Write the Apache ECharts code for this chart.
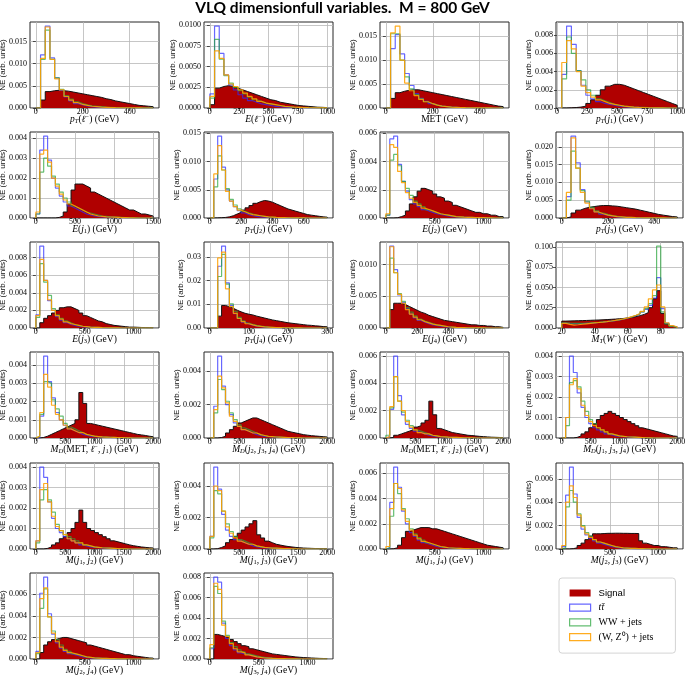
<!DOCTYPE html>
<html><head><meta charset="utf-8">
<script src="https://cdn.jsdelivr.net/npm/echarts@6/dist/echarts.min.js"></script>
<style>html,body{margin:0;padding:0;background:#fff}#c{width:685px;height:675px}</style>
</head><body><div id="c"></div>
<script>
// ---------- bin edges ----------
const E20_500 = [0,20,40,60,80,100,120,140,160,180,200,220,240,260,280,300,320,340,360,380,400,420,440,460,480,500];
const E40_1000 = [0,40,80,120,160,200,240,280,320,360,400,440,480,520,560,600,640,680,720,760,800,840,880,920,960,1000];
const E40_1000b = [40,80,120,160,200,240,280,320,360,400,440,480,520,560,600,640,680,720,760,800,840,880,920,960,1000];
const E50_1500 = [0,50,100,150,200,250,300,350,400,450,500,550,600,650,700,750,800,850,900,950,1000,1050,1100,1150,1200,1250,1300,1350,1400,1450,1500];
const E25_750 = [0,25,50,75,100,125,150,175,200,225,250,275,300,325,350,375,400,425,450,475,500,525,550,575,600,625,650,675,700,725,750];
const E40_1200 = [0,40,80,120,160,200,240,280,320,360,400,440,480,520,560,600,640,680,720,760,800,840,880,920,960,1000,1040,1080,1120,1160,1200];
const E10_300 = [0,10,20,30,40,50,60,70,80,90,100,110,120,130,140,150,160,170,180,190,200,210,220,230,240,250,260,270,280,290,300];
const E25_90 = [20,22.5,25,27.5,30,32.5,35,37.5,40,42.5,45,47.5,50,52.5,55,57.5,60,62.5,65,67.5,70,72.5,75,77.5,80,82.5,85,87.5,90];
const E67_2000 = [0,66.67,133.33,200,266.67,333.33,400,466.67,533.33,600,666.67,733.33,800,866.67,933.33,1000,1066.67,1133.33,1200,1266.67,1333.33,1400,1466.67,1533.33,1600,1666.67,1733.33,1800,1866.67,1933.33,2000];

// ---------- x tick labels ----------
const T_0_400 = [0,200,400];
const T_0_1000q = [0,250,500,750,1000];
const T_0_1500 = [0,500,1000,1500];
const T_0_600 = [0,200,400,600];
const T_0_1000 = [0,500,1000];
const T_0_300 = [0,100,200,300];
const T_MT = [20,40,60,80];
const T_0_2000 = [0,500,1000,1500,2000];

// ---------- series values (normalised entries per bin) ----------
const sig1 = [0,0.0018,0.0037,0.0039,0.0040,0.0039,0.0038,0.0036,0.0034,0.0032,0.0030,0.0028,0.0026,0.0024,0.0021,0.0019,0.0016,0.0014,0.0012,0.0010,0.0008,0.0006,0.0005,0.0004,0.0003];
const tt1 = [0,0.0120,0.0185,0.0113,0.0068,0.0040,0.0025,0.0016,0.0010,0.0007,0.0005,0.0003,0.0002,0.00015,0.0001,0.00007,0.00005,0.00003,0.00002,0.00001,0,0,0,0,0];
const ww1 = [0,0.0110,0.0176,0.0110,0.0068,0.0042,0.0028,0.0020,0.0014,0.0010,0.0007,0.0005,0.0004,0.0003,0.0002,0.00015,0.0001,0.00008,0.00006,0.00004,0.00003,0.00002,0.00001,0.00001,0];
const wz1 = [0,0.0112,0.0183,0.0110,0.0066,0.0041,0.0026,0.0018,0.0012,0.0008,0.0006,0.0004,0.0003,0.0002,0.00015,0.0001,0.00007,0.00005,0.00003,0.00002,0.00001,0.00001,0,0,0];

const sig2 = [0.0004,0.0024,0.0026,0.0027,0.0026,0.0024,0.0022,0.0020,0.0018,0.0016,0.0014,0.0012,0.0010,0.0009,0.0007,0.0006,0.0005,0.0004,0.0003,0.00025,0.0002,0.00015,0.0001,0.00008,0.00005];
const tt2 = [0.0017,0.0099,0.0066,0.0040,0.0028,0.0022,0.0016,0.0012,0.0009,0.0007,0.0005,0.0004,0.0003,0.0002,0.00015,0.0001,0.00008,0.00006,0.00004,0.00003,0.00002,0.00001,0.00001,0,0];
const ww2 = [0.0012,0.0083,0.0059,0.0039,0.0030,0.0025,0.0021,0.0017,0.0013,0.0010,0.0008,0.0006,0.0005,0.0004,0.0003,0.0002,0.00015,0.0001,0.00008,0.00006,0.00004,0.00003,0.00002,0.00001,0.00001];
const wz2 = [0.0014,0.0069,0.0060,0.0040,0.0029,0.0026,0.0022,0.0018,0.0014,0.0011,0.0008,0.0006,0.0005,0.0004,0.0003,0.0002,0.00015,0.0001,0.00008,0.00006,0.00004,0.00003,0.00002,0.00001,0.00001];

const sig3 = [0,0.0020,0.0032,0.0035,0.0037,0.0038,0.0038,0.0036,0.0034,0.0032,0.0030,0.0028,0.0026,0.0024,0.0022,0.0020,0.0018,0.0016,0.0014,0.0012,0.0010,0.0008,0.0006,0.0004,0.0003];
const tt3 = [0,0.0124,0.0153,0.0113,0.0072,0.0047,0.0030,0.0020,0.0014,0.0009,0.0006,0.0004,0.0003,0.0002,0.00015,0.0001,0.00007,0.00005,0.00003,0.00002,0.00001,0.00001,0,0,0];
const ww3 = [0,0.0155,0.0155,0.0100,0.0065,0.0040,0.0028,0.0019,0.0013,0.0009,0.0006,0.0004,0.0003,0.0002,0.00015,0.0001,0.00007,0.00005,0.00003,0.00002,0.00001,0.00001,0,0,0];
const wz3 = [0,0.0157,0.0171,0.0100,0.0052,0.0036,0.0026,0.0018,0.0013,0.0009,0.0006,0.0004,0.0003,0.0002,0.00015,0.0001,0.00007,0.00005,0.00003,0.00002,0.00001,0.00001,0,0,0];

const sig4 = [0,0.00002,0.00005,0.0001,0.0002,0.0005,0.0009,0.0014,0.0020,0.0024,0.0026,0.0026,0.0025,0.0023,0.0021,0.0019,0.0017,0.0015,0.0013,0.0011,0.0009,0.0007,0.0005,0.0003];
const tt4 = [0.0037,0.0090,0.0070,0.0041,0.0025,0.0014,0.0010,0.0007,0.0005,0.0004,0.0003,0.0002,0.00015,0.0001,0.00008,0.00006,0.00004,0.00003,0.00002,0.00001,0.00001,0,0,0];
const ww4 = [0.0032,0.0078,0.0060,0.0041,0.0031,0.0020,0.0014,0.0010,0.0008,0.0006,0.0004,0.0003,0.0002,0.00015,0.0001,0.00008,0.00006,0.00004,0.00003,0.00002,0.00001,0.00001,0,0];
const wz4 = [0.0050,0.0074,0.0065,0.0040,0.0024,0.0017,0.0012,0.0009,0.0007,0.0005,0.0004,0.0003,0.0002,0.00015,0.0001,0.00007,0.00005,0.00003,0.00002,0.00001,0.00001,0,0,0];

const sig5 = [0,0,0,0,0,0.00003,0.0001,0.0003,0.0007,0.0014,0.0017,0.0017,0.0016,0.0015,0.0013,0.0012,0.0011,0.0010,0.0009,0.0008,0.0007,0.0006,0.0005,0.0004,0.0004,0.0003,0.0002,0.0002,0.00015,0.0001];
const tt5 = [0.0002,0.0034,0.0041,0.0029,0.0020,0.0015,0.0011,0.0008,0.0006,0.0005,0.0004,0.0003,0.0002,0.00015,0.0001,0.00008,0.00006,0.00005,0.00004,0.00003,0.00002,0.00002,0.00001,0.00001,0,0,0,0,0,0];
const ww5 = [0.0002,0.0023,0.0030,0.0026,0.0021,0.0017,0.0013,0.0010,0.0008,0.0006,0.0005,0.0004,0.0003,0.00025,0.0002,0.00015,0.0001,0.00008,0.00006,0.00005,0.00004,0.00003,0.00002,0.00002,0.00001,0.00001,0,0,0,0];
const wz5 = [0.0003,0.0032,0.0034,0.0028,0.0020,0.0016,0.0012,0.0009,0.0007,0.0006,0.0005,0.0004,0.0003,0.0002,0.00015,0.0001,0.00008,0.00006,0.00005,0.00004,0.00003,0.00002,0.00002,0.00001,0.00001,0,0,0,0,0];

const sig6 = [0,0.00002,0.00005,0.0001,0.0002,0.0004,0.0007,0.0010,0.0014,0.0018,0.0022,0.0026,0.0029,0.0031,0.0030,0.0028,0.0025,0.0022,0.0019,0.0016,0.0014,0.0012,0.0010,0.0008,0.0006,0.0005,0.0004,0.0003,0.0002,0.00015];
const tt6 = [0,0.0069,0.0145,0.0090,0.0050,0.0030,0.0020,0.0013,0.0009,0.0006,0.0004,0.0003,0.0002,0.00015,0.0001,0.00007,0.00005,0.00003,0.00002,0.00001,0.00001,0,0,0,0,0,0,0,0,0];
const ww6 = [0,0.0055,0.0110,0.0085,0.0052,0.0033,0.0023,0.0016,0.0012,0.0009,0.0007,0.0005,0.0004,0.0003,0.0002,0.00015,0.0001,0.00008,0.00006,0.00004,0.00003,0.00002,0.00001,0.00001,0,0,0,0,0,0];
const wz6 = [0,0.0078,0.0128,0.0085,0.0047,0.0030,0.0020,0.0014,0.0011,0.0008,0.0006,0.0005,0.0004,0.0003,0.0002,0.00015,0.0001,0.00008,0.00006,0.00004,0.00003,0.00002,0.00001,0.00001,0,0,0,0,0,0];

const sig7 = [0,0,0.00002,0.0001,0.0002,0.0005,0.0010,0.0015,0.0019,0.0021,0.0020,0.0019,0.0017,0.0015,0.0014,0.0012,0.0011,0.0009,0.0008,0.0007,0.0006,0.0005,0.0004,0.0004,0.0003,0.0003,0.0002,0.0002,0.0001,0.0001];
const tt7 = [0.0002,0.0056,0.0058,0.0038,0.0026,0.0019,0.0013,0.0010,0.0008,0.0006,0.0005,0.0004,0.0003,0.00025,0.0002,0.00015,0.0001,0.00008,0.00006,0.00005,0.00004,0.00003,0.00002,0.00002,0.00001,0.00001,0,0,0,0];
const ww7 = [0.0002,0.0041,0.0045,0.0037,0.0026,0.0021,0.0016,0.0012,0.0010,0.0008,0.0006,0.0005,0.0004,0.0003,0.00025,0.0002,0.00015,0.0001,0.00008,0.00006,0.00005,0.00004,0.00003,0.00002,0.00002,0.00001,0.00001,0,0,0];
const wz7 = [0.0003,0.0052,0.0050,0.0033,0.0025,0.0018,0.0014,0.0011,0.0009,0.0007,0.0006,0.0005,0.0004,0.0003,0.00025,0.0002,0.00015,0.0001,0.00008,0.00006,0.00005,0.00004,0.00003,0.00002,0.00002,0.00001,0.00001,0,0,0];

const sig8 = [0,0.0003,0.0014,0.0022,0.0027,0.0030,0.0032,0.0034,0.0035,0.0035,0.0034,0.0033,0.0031,0.0029,0.0027,0.0025,0.0022,0.0019,0.0016,0.0013,0.0010,0.0008,0.0006,0.0004,0.0003];
const tt8 = [0,0.0060,0.0230,0.0155,0.0080,0.0045,0.0027,0.0017,0.0011,0.0007,0.0005,0.0003,0.0002,0.00015,0.0001,0.00007,0.00005,0.00003,0.00002,0.00001,0.00001,0,0,0,0];
const ww8 = [0,0.0050,0.0188,0.0140,0.0077,0.0047,0.0030,0.0020,0.0014,0.0010,0.0007,0.0005,0.0003,0.0002,0.00015,0.0001,0.00007,0.00005,0.00003,0.00002,0.00001,0.00001,0,0,0];
const wz8 = [0,0.0072,0.0225,0.0140,0.0072,0.0042,0.0026,0.0017,0.0012,0.0008,0.0006,0.0004,0.0003,0.0002,0.00015,0.0001,0.00007,0.00005,0.00003,0.00002,0.00001,0.00001,0,0,0];

const sig9 = [0,0.0006,0.0011,0.0014,0.0017,0.0020,0.0023,0.0024,0.0024,0.0022,0.0020,0.0017,0.0014,0.0012,0.0010,0.0008,0.0007,0.0005,0.0004,0.0003,0.00025,0.0002,0.00015,0.0001,0.0001,0.00008,0.00006,0.00005,0.00004,0.00003];
const tt9 = [0.0015,0.0093,0.0054,0.0031,0.0020,0.0013,0.0009,0.0006,0.0004,0.0003,0.0002,0.00015,0.0001,0.00008,0.00006,0.00004,0.00003,0.00002,0.00001,0.00001,0,0,0,0,0,0,0,0,0,0];
const ww9 = [0.0012,0.0073,0.0052,0.0037,0.0022,0.0015,0.0011,0.0008,0.0006,0.0004,0.0003,0.0002,0.00015,0.0001,0.00008,0.00006,0.00004,0.00003,0.00002,0.00001,0.00001,0,0,0,0,0,0,0,0,0];
const wz9 = [0.0014,0.0078,0.0054,0.0032,0.0020,0.0014,0.0010,0.0007,0.0005,0.0004,0.0003,0.0002,0.00015,0.0001,0.00008,0.00006,0.00004,0.00003,0.00002,0.00001,0.00001,0,0,0,0,0,0,0,0,0];

const sig10 = [0,0,0.0050,0.0095,0.0090,0.0083,0.0075,0.0068,0.0062,0.0058,0.0055,0.0050,0.0046,0.0042,0.0038,0.0034,0.0031,0.0028,0.0025,0.0022,0.0020,0.0018,0.0016,0.0014,0.0012,0.0011,0.0009,0.0008,0.0006,0.0005];
const tt10 = [0,0,0.0260,0.0345,0.0190,0.0095,0.0060,0.0040,0.0025,0.0017,0.0012,0.0008,0.0006,0.0004,0.0003,0.0002,0.00015,0.0001,0.00007,0.00005,0.00003,0.00002,0.00001,0.00001,0,0,0,0,0,0];
const ww10 = [0,0,0.0217,0.0310,0.0185,0.0102,0.0070,0.0045,0.0030,0.0021,0.0015,0.0011,0.0008,0.0006,0.0004,0.0003,0.0002,0.00015,0.0001,0.00007,0.00005,0.00003,0.00002,0.00001,0.00001,0,0,0,0,0];
const wz10 = [0,0,0.0295,0.0320,0.0165,0.0090,0.0062,0.0040,0.0027,0.0018,0.0013,0.0009,0.0007,0.0005,0.0004,0.0003,0.0002,0.00015,0.0001,0.00007,0.00005,0.00003,0.00002,0.00001,0.00001,0,0,0,0,0];

const sig11 = [0,0.0029,0.0039,0.0039,0.0037,0.0034,0.0031,0.0028,0.0025,0.0023,0.0020,0.0018,0.0016,0.0014,0.0012,0.0011,0.0010,0.0009,0.0008,0.0007,0.0006,0.0005,0.0005,0.0004,0.0004,0.0003,0.0003,0.0002,0.0002,0.0001];
const tt11 = [0,0.0129,0.0092,0.0052,0.0040,0.0030,0.0022,0.0016,0.0012,0.0009,0.0007,0.0005,0.0004,0.0003,0.0002,0.00015,0.0001,0.00008,0.00006,0.00004,0.00003,0.00002,0.00001,0.00001,0,0,0,0,0,0];
const ww11 = [0,0.0110,0.0087,0.0054,0.0042,0.0032,0.0025,0.0019,0.0014,0.0011,0.0009,0.0007,0.0005,0.0004,0.0003,0.0002,0.00015,0.0001,0.00008,0.00006,0.00004,0.00003,0.00002,0.00001,0.00001,0,0,0,0,0];
const wz11 = [0,0.0128,0.0087,0.0053,0.0039,0.0029,0.0022,0.0017,0.0013,0.0010,0.0008,0.0006,0.0005,0.0004,0.0003,0.0002,0.00015,0.0001,0.00008,0.00006,0.00004,0.00003,0.00002,0.00001,0.00001,0,0,0,0,0];

const sig12 = [0.0085,0.0087,0.0088,0.0090,0.0091,0.0093,0.0095,0.0097,0.0099,0.0101,0.0104,0.0107,0.0110,0.0114,0.0118,0.0124,0.0130,0.0140,0.0152,0.0168,0.0190,0.0250,0.0360,0.0460,0.0180,0.0050,0.0020,0.0008];
const tt12 = [0.0060,0.0055,0.0052,0.0052,0.0054,0.0057,0.0060,0.0064,0.0068,0.0073,0.0078,0.0085,0.0092,0.0100,0.0110,0.0122,0.0136,0.0152,0.0172,0.0197,0.0230,0.0280,0.0370,0.0620,0.0240,0.0060,0.0025,0.0010];
const ww12 = [0.0065,0.0060,0.0057,0.0056,0.0057,0.0059,0.0062,0.0066,0.0070,0.0075,0.0080,0.0086,0.0093,0.0101,0.0111,0.0123,0.0137,0.0154,0.0175,0.0200,0.0240,0.0300,0.0400,0.1010,0.0200,0.0050,0.0020,0.0008];
const wz12 = [0.0058,0.0045,0.0036,0.0040,0.0046,0.0052,0.0058,0.0063,0.0068,0.0073,0.0079,0.0086,0.0094,0.0103,0.0113,0.0125,0.0140,0.0157,0.0178,0.0205,0.0260,0.0360,0.0470,0.0530,0.0260,0.0065,0.0030,0.0012];

const sig13 = [0,0.00003,0.0001,0.0002,0.0003,0.0004,0.0005,0.0006,0.0007,0.0008,0.0010,0.0025,0.0019,0.0008,0.00075,0.0007,0.00065,0.0006,0.00055,0.0005,0.00045,0.0004,0.00035,0.0003,0.00025,0.0002,0.00017,0.00014,0.0001,0.00007];
const tt13 = [0,0.0012,0.0045,0.0031,0.0022,0.0014,0.0010,0.0007,0.0005,0.0004,0.0003,0.0002,0.00015,0.0001,0.00008,0.00006,0.00005,0.00004,0.00003,0.00002,0.00002,0.00001,0.00001,0,0,0,0,0,0,0];
const ww13 = [0.0001,0.0013,0.0031,0.0030,0.0021,0.0016,0.0012,0.0008,0.0006,0.0005,0.0004,0.0003,0.0002,0.00015,0.0001,0.00008,0.00006,0.00005,0.00004,0.00003,0.00002,0.00002,0.00001,0.00001,0,0,0,0,0,0];
const wz13 = [0.0001,0.0014,0.0035,0.0028,0.0018,0.0013,0.0010,0.0007,0.0005,0.0004,0.0003,0.0003,0.0002,0.00015,0.0001,0.00008,0.00006,0.00005,0.00004,0.00003,0.00002,0.00002,0.00001,0.00001,0,0,0,0,0,0];

const sig14 = [0,0,0.00003,0.0001,0.0003,0.0005,0.0007,0.0009,0.0010,0.0011,0.0012,0.0012,0.0011,0.0010,0.0009,0.0008,0.0007,0.0006,0.0005,0.0004,0.00035,0.0003,0.00025,0.0002,0.00017,0.00014,0.00012,0.0001,0.00008,0.00006];
const tt14 = [0,0.0019,0.0049,0.0031,0.0020,0.0014,0.0009,0.0007,0.0005,0.0004,0.0003,0.0002,0.00015,0.0001,0.00008,0.00006,0.00005,0.00004,0.00003,0.00002,0.00001,0.00001,0,0,0,0,0,0,0,0];
const ww14 = [0,0.0015,0.0035,0.0029,0.0022,0.0015,0.0011,0.0008,0.0006,0.0005,0.0004,0.0003,0.0002,0.00015,0.0001,0.00008,0.00006,0.00005,0.00004,0.00003,0.00002,0.00001,0.00001,0,0,0,0,0,0,0];
const wz14 = [0,0.0017,0.0037,0.0030,0.0021,0.0013,0.0010,0.0007,0.0005,0.0004,0.0003,0.0003,0.0002,0.00015,0.0001,0.00008,0.00006,0.00005,0.00004,0.00003,0.00002,0.00001,0.00001,0,0,0,0,0,0,0];

const sig15 = [0,0.00005,0.0002,0.0003,0.0004,0.0005,0.0006,0.0008,0.0009,0.0011,0.0013,0.0027,0.0017,0.0007,0.0006,0.0005,0.0004,0.00035,0.0003,0.00025,0.0002,0.00018,0.00015,0.00012,0.0001,0.00008,0.00006,0.00005,0.00004,0.00003];
const tt15 = [0.0001,0.0021,0.0060,0.0031,0.0017,0.0010,0.0007,0.0005,0.0004,0.0003,0.0002,0.00015,0.0001,0.00008,0.00006,0.00005,0.00004,0.00003,0.00002,0.00001,0.00001,0,0,0,0,0,0,0,0,0];
const ww15 = [0.0002,0.0022,0.0045,0.0027,0.0019,0.0013,0.0009,0.0006,0.0005,0.0004,0.0003,0.0002,0.00015,0.0001,0.00008,0.00006,0.00005,0.00004,0.00003,0.00002,0.00001,0.00001,0,0,0,0,0,0,0,0];
const wz15 = [0.0001,0.0023,0.0045,0.0027,0.0020,0.0012,0.0008,0.0006,0.0004,0.0003,0.0003,0.0002,0.00015,0.0001,0.00008,0.00006,0.00005,0.00004,0.00003,0.00002,0.00001,0.00001,0,0,0,0,0,0,0,0];

const sig16 = [0,0,0,0.00003,0.0001,0.0002,0.0003,0.0005,0.0007,0.0009,0.0011,0.0012,0.0013,0.0012,0.0011,0.0010,0.0009,0.0008,0.0007,0.0006,0.0005,0.00045,0.0004,0.00035,0.0003,0.00025,0.0002,0.00015,0.0001,0.00008];
const tt16 = [0,0.0010,0.0040,0.0032,0.0022,0.0015,0.0010,0.0007,0.0005,0.0004,0.0003,0.0002,0.00015,0.0001,0.00008,0.00006,0.00005,0.00004,0.00003,0.00002,0.00001,0.00001,0,0,0,0,0,0,0,0];
const ww16 = [0,0.0006,0.0027,0.0028,0.0025,0.0018,0.0013,0.0009,0.0007,0.0005,0.0004,0.0003,0.0002,0.00015,0.0001,0.00008,0.00006,0.00005,0.00004,0.00003,0.00002,0.00001,0.00001,0,0,0,0,0,0,0];
const wz16 = [0,0.0010,0.0026,0.0029,0.0024,0.0016,0.0011,0.0008,0.0006,0.0005,0.0004,0.0003,0.0002,0.00015,0.0001,0.00008,0.00006,0.00005,0.00004,0.00003,0.00002,0.00001,0.00001,0,0,0,0,0,0,0];

const sig17 = [0,0,0.00003,0.0001,0.0002,0.0003,0.0005,0.0006,0.0008,0.0010,0.0013,0.0019,0.0013,0.0010,0.0009,0.0008,0.0007,0.0006,0.0005,0.0004,0.00035,0.0003,0.00025,0.0002,0.00016,0.00013,0.0001,0.00008,0.00006,0.00005];
const tt17 = [0.0004,0.0040,0.0035,0.0023,0.0015,0.0010,0.0008,0.0006,0.0005,0.0004,0.0003,0.0002,0.00015,0.0001,0.00008,0.00006,0.00005,0.00004,0.00003,0.00002,0.00001,0.00001,0,0,0,0,0,0,0,0];
const ww17 = [0.0003,0.0024,0.0029,0.0024,0.0018,0.0012,0.0009,0.0007,0.0006,0.0005,0.0004,0.0003,0.0002,0.00015,0.0001,0.00008,0.00006,0.00005,0.00004,0.00003,0.00002,0.00001,0.00001,0,0,0,0,0,0,0];
const wz17 = [0.0004,0.0029,0.0032,0.0023,0.0016,0.0011,0.0009,0.0007,0.0005,0.0004,0.0003,0.0003,0.0002,0.00015,0.0001,0.00008,0.00006,0.00005,0.00004,0.00003,0.00002,0.00001,0.00001,0,0,0,0,0,0,0];

const sig18 = [0,0.00002,0.0001,0.0002,0.0004,0.0006,0.0008,0.0010,0.0012,0.0014,0.0016,0.0018,0.0009,0.0007,0.0005,0.0004,0.0003,0.00025,0.0002,0.00016,0.00013,0.0001,0.00008,0.00006,0.00005,0.00004,0.00003,0.00003,0.00002,0.00002];
const tt18 = [0.0008,0.0052,0.0038,0.0022,0.0012,0.0008,0.0006,0.0005,0.0004,0.0003,0.0002,0.00015,0.0001,0.00008,0.00006,0.00005,0.00004,0.00003,0.00002,0.00001,0.00001,0,0,0,0,0,0,0,0,0];
const ww18 = [0.0007,0.0037,0.0035,0.0024,0.0016,0.0011,0.0008,0.0006,0.0005,0.0004,0.0003,0.0002,0.00015,0.0001,0.00008,0.00006,0.00005,0.00004,0.00003,0.00002,0.00001,0.00001,0,0,0,0,0,0,0,0];
const wz18 = [0.0008,0.0040,0.0037,0.0024,0.0014,0.0010,0.0007,0.0005,0.0004,0.0003,0.0003,0.0002,0.00015,0.0001,0.00008,0.00006,0.00005,0.00004,0.00003,0.00002,0.00001,0.00001,0,0,0,0,0,0,0,0];

const sig19 = [0,0.00002,0.0001,0.0003,0.0009,0.0014,0.0015,0.0016,0.0017,0.0017,0.0017,0.0016,0.0016,0.0015,0.0014,0.0013,0.0012,0.0011,0.0010,0.0009,0.0008,0.0007,0.0006,0.0005,0.0004,0.0003,0.00025,0.0002,0.00015,0.0001];
const tt19 = [0.0001,0.0037,0.0065,0.0049,0.0030,0.0020,0.0013,0.0010,0.0007,0.0005,0.0004,0.0003,0.0002,0.00015,0.0001,0.00008,0.00006,0.00005,0.00004,0.00003,0.00002,0.00001,0.00001,0,0,0,0,0,0,0];
const ww19 = [0.0001,0.0026,0.0052,0.0044,0.0032,0.0024,0.0016,0.0012,0.0009,0.0007,0.0005,0.0004,0.0003,0.0002,0.00015,0.0001,0.00008,0.00006,0.00005,0.00004,0.00003,0.00002,0.00001,0.00001,0,0,0,0,0,0];
const wz19 = [0.0002,0.0032,0.0052,0.0048,0.0031,0.0022,0.0015,0.0011,0.0008,0.0006,0.0005,0.0004,0.0003,0.0002,0.00015,0.0001,0.00008,0.00006,0.00005,0.00004,0.00003,0.00002,0.00001,0.00001,0,0,0,0,0,0];

const sig20 = [0,0,0.00003,0.0001,0.0003,0.0005,0.0008,0.0011,0.0013,0.00130,0.00132,0.00134,0.00134,0.00135,0.00135,0.00134,0.00134,0.00133,0.00133,0.00132,0.0007,0.0005,0.0004,0.0003,0.0003,0.0002,0.0002,0.00015,0.0001,0.0001];
const tt20 = [0.0002,0.0046,0.0070,0.0047,0.0027,0.0017,0.0012,0.0009,0.0007,0.0005,0.0004,0.0003,0.0002,0.00015,0.0001,0.00008,0.00006,0.00005,0.00004,0.00003,0.00002,0.00001,0.00001,0,0,0,0,0,0,0];
const ww20 = [0.0001,0.0036,0.0050,0.0040,0.0030,0.0020,0.0014,0.0011,0.0008,0.0006,0.0005,0.0004,0.0003,0.0002,0.00015,0.0001,0.00008,0.00006,0.00005,0.00004,0.00003,0.00002,0.00001,0.00001,0,0,0,0,0,0];
const wz20 = [0.0003,0.0040,0.0054,0.0044,0.0029,0.0019,0.0013,0.0010,0.0008,0.0006,0.0005,0.0004,0.0003,0.0002,0.00015,0.0001,0.00008,0.00006,0.00005,0.00004,0.00003,0.00002,0.00001,0.00001,0,0,0,0,0,0];

const sig21 = [0,0.0006,0.0013,0.0016,0.0018,0.0019,0.0020,0.0020,0.0019,0.0018,0.0017,0.0016,0.0015,0.0013,0.0012,0.0011,0.0010,0.0009,0.0008,0.0007,0.0006,0.0005,0.0004,0.0004,0.0003,0.00025,0.0002,0.00015,0.0001,0.00008];
const tt21 = [0.0007,0.0061,0.0076,0.0042,0.0023,0.0015,0.0010,0.0007,0.0005,0.0004,0.0003,0.0002,0.00015,0.0001,0.00008,0.00006,0.00005,0.00004,0.00003,0.00002,0.00001,0.00001,0,0,0,0,0,0,0,0];
const ww21 = [0.0005,0.0047,0.0065,0.0039,0.0026,0.0018,0.0013,0.0009,0.0007,0.0005,0.0004,0.0003,0.0002,0.00015,0.0001,0.00008,0.00006,0.00005,0.00004,0.00003,0.00002,0.00001,0.00001,0,0,0,0,0,0,0];
const wz21 = [0.0006,0.0056,0.0066,0.0039,0.0024,0.0016,0.0011,0.0008,0.0006,0.0005,0.0004,0.0003,0.0002,0.00015,0.0001,0.00008,0.00006,0.00005,0.00004,0.00003,0.00002,0.00001,0.00001,0,0,0,0,0,0,0];

const sig22 = [0,0.0024,0.0023,0.0022,0.0021,0.0019,0.0017,0.0015,0.0013,0.0012,0.0010,0.0009,0.0008,0.0007,0.0006,0.0005,0.00045,0.0004,0.00035,0.0003,0.00025,0.0002,0.00017,0.00014,0.00012,0.0001,0.00008,0.00006,0.00005,0.00004];
const tt22 = [0.0010,0.0080,0.0075,0.0035,0.0020,0.0013,0.0009,0.0006,0.0005,0.0004,0.0003,0.0002,0.00015,0.0001,0.00008,0.00006,0.00005,0.00004,0.00003,0.00002,0.00001,0.00001,0,0,0,0,0,0,0,0];
const ww22 = [0.0011,0.0071,0.0064,0.0037,0.0023,0.0016,0.0012,0.0009,0.0007,0.0005,0.0004,0.0003,0.0002,0.00015,0.0001,0.00008,0.00006,0.00005,0.00004,0.00003,0.00002,0.00001,0.00001,0,0,0,0,0,0,0];
const wz22 = [0.0014,0.0074,0.0068,0.0033,0.0022,0.0015,0.0010,0.0007,0.0006,0.0004,0.0003,0.0002,0.00015,0.0001,0.00008,0.00006,0.00005,0.00004,0.00003,0.00002,0.00001,0.00001,0,0,0,0,0,0,0,0];

// ---------- axis titles (rich text) ----------
const xNames = [
  '{i|p}{s|T}{r|(}{i|ℓ}{p|−}{r|) (GeV)}',
  '{i|E}{r|(}{i|ℓ}{p|−}{r|) (GeV)}',
  '{r|MET (GeV)}',
  '{i|p}{s|T}{r|(}{i|j}{n|1}{r|) (GeV)}',
  '{i|E}{r|(}{i|j}{n|1}{r|) (GeV)}',
  '{i|p}{s|T}{r|(}{i|j}{n|2}{r|) (GeV)}',
  '{i|E}{r|(}{i|j}{n|2}{r|) (GeV)}',
  '{i|p}{s|T}{r|(}{i|j}{n|3}{r|) (GeV)}',
  '{i|E}{r|(}{i|j}{n|3}{r|) (GeV)}',
  '{i|p}{s|T}{r|(}{i|j}{n|4}{r|) (GeV)}',
  '{i|E}{r|(}{i|j}{n|4}{r|) (GeV)}',
  '{i|M}{s|T}{r|(}{i|W}{p|−}{r|) (GeV)}',
  '{i|M}{s|D}{r|(MET, }{i|ℓ}{p|−}{r|, }{i|j}{n|1}{r|) (GeV)}',
  '{i|M}{s|D}{r|(}{i|j}{n|2}{r|, }{i|j}{n|3}{r|, }{i|j}{n|4}{r|) (GeV)}',
  '{i|M}{s|D}{r|(MET, }{i|ℓ}{p|−}{r|, }{i|j}{n|2}{r|) (GeV)}',
  '{i|M}{s|D}{r|(}{i|j}{n|1}{r|, }{i|j}{n|3}{r|, }{i|j}{n|4}{r|) (GeV)}',
  '{i|M}{r|(}{i|j}{n|1}{r|, }{i|j}{n|2}{r|) (GeV)}',
  '{i|M}{r|(}{i|j}{n|1}{r|, }{i|j}{n|3}{r|) (GeV)}',
  '{i|M}{r|(}{i|j}{n|1}{r|, }{i|j}{n|4}{r|) (GeV)}',
  '{i|M}{r|(}{i|j}{n|2}{r|, }{i|j}{n|3}{r|) (GeV)}',
  '{i|M}{r|(}{i|j}{n|2}{r|, }{i|j}{n|4}{r|) (GeV)}',
  '{i|M}{r|(}{i|j}{n|3}{r|, }{i|j}{n|4}{r|) (GeV)}'
];

// ---------- panel table ----------
const panels = [
  {e:E20_500,  s:sig1,  t:tt1,  w:ww1,  z:wz1,  xt:T_0_400,  ys:0.005,  yd:3},
  {e:E40_1000, s:sig2,  t:tt2,  w:ww2,  z:wz2,  xt:T_0_1000q,ys:0.0025, yd:4},
  {e:E20_500,  s:sig3,  t:tt3,  w:ww3,  z:wz3,  xt:T_0_400,  ys:0.005,  yd:3},
  {e:E40_1000b,s:sig4,  t:tt4,  w:ww4,  z:wz4,  xt:T_0_1000q,ys:0.002,  yd:3},
  {e:E50_1500, s:sig5,  t:tt5,  w:ww5,  z:wz5,  xt:T_0_1500, ys:0.001,  yd:3},
  {e:E25_750,  s:sig6,  t:tt6,  w:ww6,  z:wz6,  xt:T_0_600,  ys:0.005,  yd:3},
  {e:E40_1200, s:sig7,  t:tt7,  w:ww7,  z:wz7,  xt:T_0_1000, ys:0.002,  yd:3},
  {e:E20_500,  s:sig8,  t:tt8,  w:ww8,  z:wz8,  xt:T_0_400,  ys:0.005,  yd:3},
  {e:E40_1200, s:sig9,  t:tt9,  w:ww9,  z:wz9,  xt:T_0_1000, ys:0.002,  yd:3},
  {e:E10_300,  s:sig10, t:tt10, w:ww10, z:wz10, xt:T_0_300,  ys:0.01,   yd:2},
  {e:E25_750,  s:sig11, t:tt11, w:ww11, z:wz11, xt:T_0_600,  ys:0.005,  yd:3},
  {e:E25_90,   s:sig12, t:tt12, w:ww12, z:wz12, xt:T_MT,     ys:0.025,  yd:3},
  {e:E67_2000, s:sig13, t:tt13, w:ww13, z:wz13, xt:T_0_2000, ys:0.001,  yd:3},
  {e:E67_2000, s:sig14, t:tt14, w:ww14, z:wz14, xt:T_0_2000, ys:0.002,  yd:3},
  {e:E67_2000, s:sig15, t:tt15, w:ww15, z:wz15, xt:T_0_2000, ys:0.002,  yd:3},
  {e:E67_2000, s:sig16, t:tt16, w:ww16, z:wz16, xt:T_0_2000, ys:0.001,  yd:3},
  {e:E67_2000, s:sig17, t:tt17, w:ww17, z:wz17, xt:T_0_2000, ys:0.001,  yd:3},
  {e:E67_2000, s:sig18, t:tt18, w:ww18, z:wz18, xt:T_0_2000, ys:0.002,  yd:3},
  {e:E40_1200, s:sig19, t:tt19, w:ww19, z:wz19, xt:T_0_1000, ys:0.002,  yd:3},
  {e:E40_1200, s:sig20, t:tt20, w:ww20, z:wz20, xt:T_0_1000, ys:0.002,  yd:3},
  {e:E40_1200, s:sig21, t:tt21, w:ww21, z:wz21, xt:T_0_1000, ys:0.002,  yd:3},
  {e:E40_1200, s:sig22, t:tt22, w:ww22, z:wz22, xt:T_0_1000, ys:0.002,  yd:3}
];

const SERIF = 'Liberation Serif';
const SANS = 'Liberation Sans';
const N_SIG = 'Signal', N_TT = 'tt\u0304', N_WW = 'WW + jets', N_WZ = '(W, Z\u2070) + jets';
const C_SIG = '#b00000', C_TT = 'rgba(45,45,255,0.72)', C_WW = 'rgba(40,165,60,0.72)', C_WZ = 'rgba(255,160,0,0.88)';

const COL_L = [30, 204, 380, 556];
const COL_W = [129, 129, 129, 127];
const ROW_T = [22, 132, 242, 352, 463, 573];
const GH = 86;

function stepPts(edges, vals) {
  if (vals.length !== edges.length - 1) throw new Error('length mismatch ' + vals.length + ' vs ' + (edges.length - 1));
  const pts = [[edges[0], 0]];
  for (let i = 0; i < vals.length; i++) pts.push([edges[i], vals[i]]);
  pts.push([edges[edges.length - 1], 0]);
  return pts;
}

const xRich = {
  r: {fontFamily: SERIF, fontSize: 9.5, color: '#000', lineHeight: 11, verticalAlign: 'middle'},
  i: {fontFamily: SERIF, fontStyle: 'italic', fontSize: 9.5, color: '#000', lineHeight: 11, verticalAlign: 'middle'},
  s: {fontFamily: SERIF, fontStyle: 'italic', fontSize: 6.5, color: '#000', lineHeight: 7, verticalAlign: 'bottom'},
  n: {fontFamily: SERIF, fontSize: 6.5, color: '#000', lineHeight: 7, verticalAlign: 'bottom'},
  p: {fontFamily: SERIF, fontSize: 6.5, color: '#000', lineHeight: 7, verticalAlign: 'top'}
};

const grids = [], xAxes = [], yAxes = [], series = [];
panels.forEach((p, k) => {
  const row = Math.floor(k / 4), col = k % 4;
  grids.push({left: COL_L[col], top: ROW_T[row], width: COL_W[col], height: GH,
    show: true, borderColor: '#262626', borderWidth: 1, backgroundColor: 'rgba(0,0,0,0)',
    containLabel: false, outerBoundsMode: 'none'});
  const lo = p.e[0], hi = p.e[p.e.length - 1], pad = 0.05 * (hi - lo);
  const ymax = 1.05 * Math.max(...p.s, ...p.t, ...p.w, ...p.z);
  const yt = [];
  for (let j = 0; j * p.ys <= ymax + 1e-12; j++) yt.push(+(j * p.ys).toFixed(6));
  const labW = (p.yd + 1) * 4 + 2;
  xAxes.push({type: 'value', gridIndex: k, min: lo - pad, max: hi + pad,
    axisLine: {show: false},
    axisTick: {show: true, length: 3, customValues: p.xt, lineStyle: {color: '#262626', width: 0.8}},
    axisLabel: {customValues: p.xt, fontFamily: SERIF, fontSize: 8, color: '#000', margin: 0, formatter: v => String(v)},
    splitLine: {show: true, lineStyle: {color: '#b8b8b8', width: 0.8}},
    name: xNames[k], nameLocation: 'middle', nameGap: 6, nameMoveOverlap: false,
    nameTextStyle: {rich: xRich}
  });
  yAxes.push({type: 'value', gridIndex: k, min: 0, max: ymax,
    axisLine: {show: false},
    axisTick: {show: true, length: 3, customValues: yt, lineStyle: {color: '#262626', width: 0.8}},
    axisLabel: {customValues: yt, fontFamily: SERIF, fontSize: 8, color: '#000', margin: 3, formatter: v => v.toFixed(p.yd)},
    splitLine: {show: true, lineStyle: {color: '#b8b8b8', width: 0.8}},
    name: 'NE (arb. units)', nameLocation: 'middle', nameGap: labW + 5, nameMoveOverlap: false,
    nameTextStyle: {fontFamily: SANS, fontSize: 8, color: '#111'}
  });
  const common = {type: 'line', xAxisIndex: k, yAxisIndex: k, step: 'end', symbol: 'none', showSymbol: false, silent: true, animation: false};
  series.push(Object.assign({}, common, {name: N_SIG, data: stepPts(p.e, p.s),
    lineStyle: {color: '#111', width: 1}, itemStyle: {color: C_SIG}, areaStyle: {color: C_SIG, opacity: 1}}));
  series.push(Object.assign({}, common, {name: N_TT, data: stepPts(p.e, p.t), lineStyle: {color: C_TT, width: 1.2}, itemStyle: {color: C_TT}}));
  series.push(Object.assign({}, common, {name: N_WW, data: stepPts(p.e, p.w), lineStyle: {color: C_WW, width: 1.2}, itemStyle: {color: C_WW}}));
  series.push(Object.assign({}, common, {name: N_WZ, data: stepPts(p.e, p.z), lineStyle: {color: C_WZ, width: 1.2}, itemStyle: {color: C_WZ}}));
});

const chart = echarts.init(document.getElementById('c'), null, {renderer: 'canvas'});
chart.setOption({
  animation: false,
  backgroundColor: '#fff',
  title: {text: 'VLQ dimensionfull variables.  M = 800 GeV', left: 'center', top: 0, padding: [0, 0, 0, 0],
    textStyle: {fontFamily: 'Lato', fontWeight: 'bold', fontSize: 15.5, color: '#000'}},
  legend: {
    orient: 'vertical', left: 559, top: 578, selectedMode: false,
    padding: [10, 22, 11, 10], itemWidth: 21, itemHeight: 7, itemGap: 4.7,
    backgroundColor: '#fff', borderColor: '#d4d4d4', borderWidth: 1, borderRadius: 3,
    data: [
      {name: N_SIG, icon: 'rect', itemStyle: {color: C_SIG, borderWidth: 0}},
      {name: N_TT, icon: 'rect', itemStyle: {color: '#fff', borderColor: C_TT, borderWidth: 1.2}},
      {name: N_WW, icon: 'rect', itemStyle: {color: '#fff', borderColor: C_WW, borderWidth: 1.2}},
      {name: N_WZ, icon: 'rect', itemStyle: {color: '#fff', borderColor: C_WZ, borderWidth: 1.2}}
    ],
    formatter: n => n === N_SIG ? '{s|Signal}' : (n === N_TT ? '{it|' + n + '}' : '{m|' + n + '}'),
    textStyle: {padding: [0, 0, 0, 3], rich: {
      s: {fontFamily: SANS, fontSize: 9.5, color: '#000', lineHeight: 11},
      m: {fontFamily: SERIF, fontSize: 10, color: '#000', lineHeight: 11},
      it: {fontFamily: SERIF, fontStyle: 'italic', fontSize: 10, color: '#000', lineHeight: 11}
    }}
  },
  grid: grids, xAxis: xAxes, yAxis: yAxes, series: series
});
</script>
</body></html>
